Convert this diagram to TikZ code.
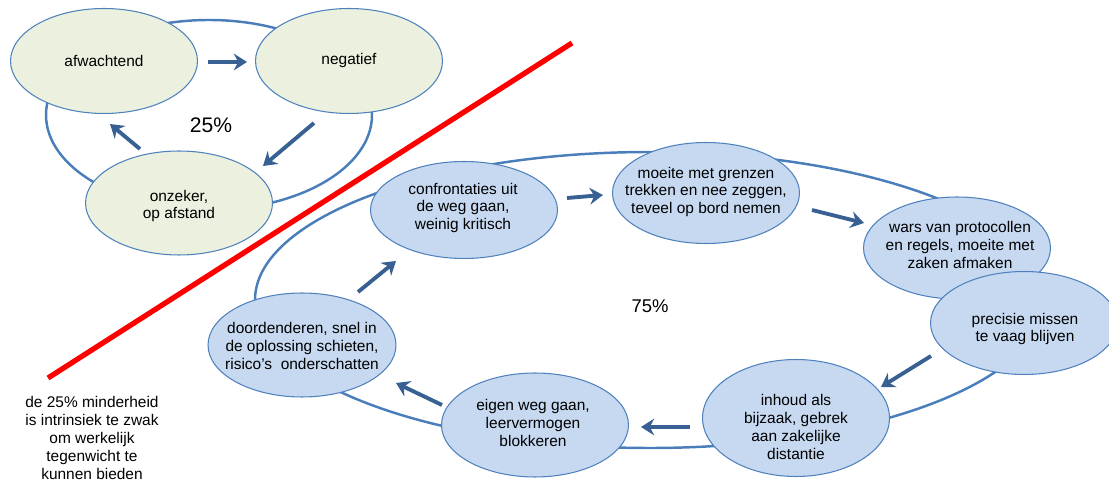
\documentclass[tikz,border=0pt]{standalone}
\usepackage{fontspec}
\setmainfont{Liberation Sans}
\usetikzlibrary{shapes.geometric,arrows.meta}
\definecolor{ringblue}{RGB}{74,126,187}
\definecolor{edgeblue}{RGB}{79,129,189}
\definecolor{arrowblue}{RGB}{56,96,146}
\definecolor{palegreen}{RGB}{235,241,222}
\definecolor{paleblue}{RGB}{198,217,241}
\tikzset{
  ring/.style={ringblue,line width=1.4pt},
  bubble/.style={ellipse,draw=edgeblue,line width=0.6pt,inner sep=0pt,
    minimum width=3.74cm,minimum height=2.08cm},
  greenbub/.style={bubble,fill=palegreen},
  bluebub/.style={bubble,fill=paleblue},
  txt/.style={align=center,inner sep=0pt,font=\fontsize{8.8}{10.2}\selectfont},
  flow/.style={arrowblue,line width=2.2pt,-{Stealth[length=7.5pt,width=9.5pt,inset=2.5pt]}},
}
\begin{document}
\begin{tikzpicture}[x=0.02cm,y=-0.02cm]
            \useasboundingbox (0,0) rectangle (1109,482);
            \draw[ring] (209,115) ellipse [x radius=163,y radius=95];
            \draw[ring] (650,300) ellipse [x radius=395,y radius=148];
            % minority loop
            \node[greenbub,minimum height=2.1cm] (afw) at (104,61) {};
            \node[greenbub,minimum height=2.1cm] (neg) at (349,61) {};
            \node[greenbub] (onz) at (179,203) {};
            \node[txt] (afw-t) at (afw) {afwachtend};
            \node[txt] (neg-t) at (neg) {negatief};
            \node[txt] (onz-t) at (179,206) {onzeker,\\op afstand};
            \node[font=\fontsize{12}{14}\selectfont] (pct25) at (211,125) {25\%};
            \coordinate (a1s) at (208,62);  \coordinate (a1e) at (247,62);
            \coordinate (a2s) at (314,123); \coordinate (a2e) at (263,166);
            \coordinate (a3s) at (140,149); \coordinate (a3e) at (110,124);
            \draw[flow] (a1s) -- (a1e);
            \draw[flow] (a2s) -- (a2e);
            \draw[flow] (a3s) -- (a3e);
            % majority loop
            \node[bluebub,minimum height=1.94cm] (conf) at (464,210) {};
            \node[bluebub,minimum height=2.02cm] (grens) at (706,193) {};
            \node[bluebub,minimum height=2.04cm] (wars) at (957,248) {};
            \node[bluebub,minimum height=2.06cm] (prec) at (1024,323) {};
            \node[bluebub,minimum height=2.34cm] (inh) at (796,418) {};
            \node[bluebub] (eigen) at (535,425) {};
            \node[bluebub,minimum width=3.76cm] (door) at (302,345) {};
            \node[txt] (conf-t) at (463,208) {confrontaties uit\\de weg gaan,\\weinig kritisch};
            \node[txt] (grens-t) at (706,192) {moeite met grenzen\\trekken en nee zeggen,\\teveel op bord nemen};
            \node[txt] (wars-t) at (960,245) {wars van protocollen\\en regels, moeite met\\zaken afmaken};
            \node[txt] (prec-t) at (1025,329) {precisie missen\\te vaag blijven};
            \node[txt] (inh-t) at (796,427) {inhoud als\\bijzaak, gebrek\\aan zakelijke\\distantie};
            \node[txt] (eigen-t) at (533,423) {eigen weg gaan,\\leervermogen\\blokkeren};
            \node[txt] (door-t) at (302,346) {doordenderen, snel in\\de oplossing schieten,\\risico’s~ onderschatten};
            \node[font=\fontsize{10.5}{12}\selectfont] (pct75) at (650,306) {75\%};
            \coordinate (b1s) at (567,198); \coordinate (b1e) at (603,195);
            \coordinate (b2s) at (812,210); \coordinate (b2e) at (864,223);
            \coordinate (b3s) at (931,356); \coordinate (b3e) at (881,387);
            \coordinate (b4s) at (690,427); \coordinate (b4e) at (641,427);
            \coordinate (b5s) at (442,405); \coordinate (b5e) at (396,383);
            \coordinate (b6s) at (358,292); \coordinate (b6e) at (396,261);
            \draw[flow] (b1s) -- (b1e);
            \draw[flow] (b2s) -- (b2e);
            \draw[flow] (b3s) -- (b3e);
            \draw[flow] (b4s) -- (b4e);
            \draw[flow] (b5s) -- (b5e);
            \draw[flow] (b6s) -- (b6e);
            % divide
            \coordinate (cutlo) at (48,378);
            \coordinate (cuthi) at (572,43);
            \draw[red,line width=3pt] (cutlo) -- (cuthi);
            \node[txt] (note) at (92,438) {de 25\% minderheid\\is intrinsiek te zwak\\om werkelijk\\tegenwicht te\\kunnen bieden};
\end{tikzpicture}
\end{document}
